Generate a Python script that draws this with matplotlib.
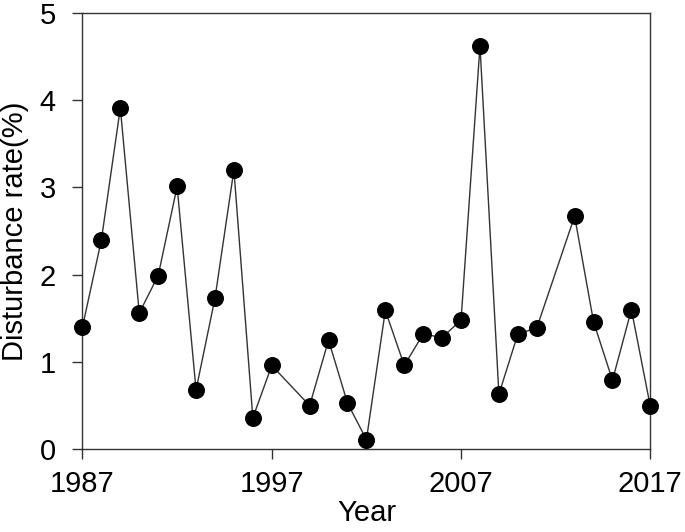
import numpy as np
import matplotlib
matplotlib.use("Agg")
import matplotlib.pyplot as plt

years = [1987, 1988, 1989, 1990, 1991, 1992, 1993, 1994, 1995, 1996, 1997,
         1999, 2000, 2001, 2002, 2003, 2004, 2005, 2006, 2007, 2008, 2009,
         2010, 2011, 2013, 2014, 2015, 2016, 2017]
rate = [1.40, 2.40, 3.91, 1.56, 1.99, 3.01, 0.68, 1.73, 3.20, 0.36, 0.96,
        0.50, 1.25, 0.53, 0.11, 1.59, 0.96, 1.32, 1.28, 1.48, 4.62, 0.63,
        1.32, 1.39, 2.67, 1.46, 0.79, 1.60, 0.49]
xticks = [1987, 1997, 2007, 2017]
yticks = [0, 1, 2, 3, 4, 5]

plt.rcParams["font.family"] = ["Liberation Sans", "DejaVu Sans"]

fig = plt.figure(figsize=(6.85, 5.32), dpi=100)
ax = fig.add_axes([0.1204, 0.1555, 0.829, 0.8205])

ax.plot(years, rate, color="#333333", linewidth=1.0, zorder=2, clip_on=False)
ax.plot(years, rate, "o", color="black", markersize=11.2, zorder=3, clip_on=False)

ax.set_xlim(1987, 2017)
ax.set_ylim(0, 5)
ax.set_xticks(xticks)
ax.set_yticks(yticks)
ax.tick_params(axis="both", direction="out", length=7.2, width=1.0, labelsize=21,
               color="#333333")
ax.tick_params(axis="y", pad=12)
ax.tick_params(axis="x", pad=8)

for sp in ax.spines.values():
    sp.set_linewidth(1.0)
    sp.set_color("#333333")

# "Year" sits low like the reference, but kept inside the canvas
ax.set_xlabel("Year", fontsize=21)
ax.set_ylabel("Disturbance rate(%)", fontsize=21)
ax.xaxis.set_label_coords(0.5, -0.113)
ax.yaxis.set_label_coords(-0.094, 0.5)

fig.savefig("out.png", dpi=100)
